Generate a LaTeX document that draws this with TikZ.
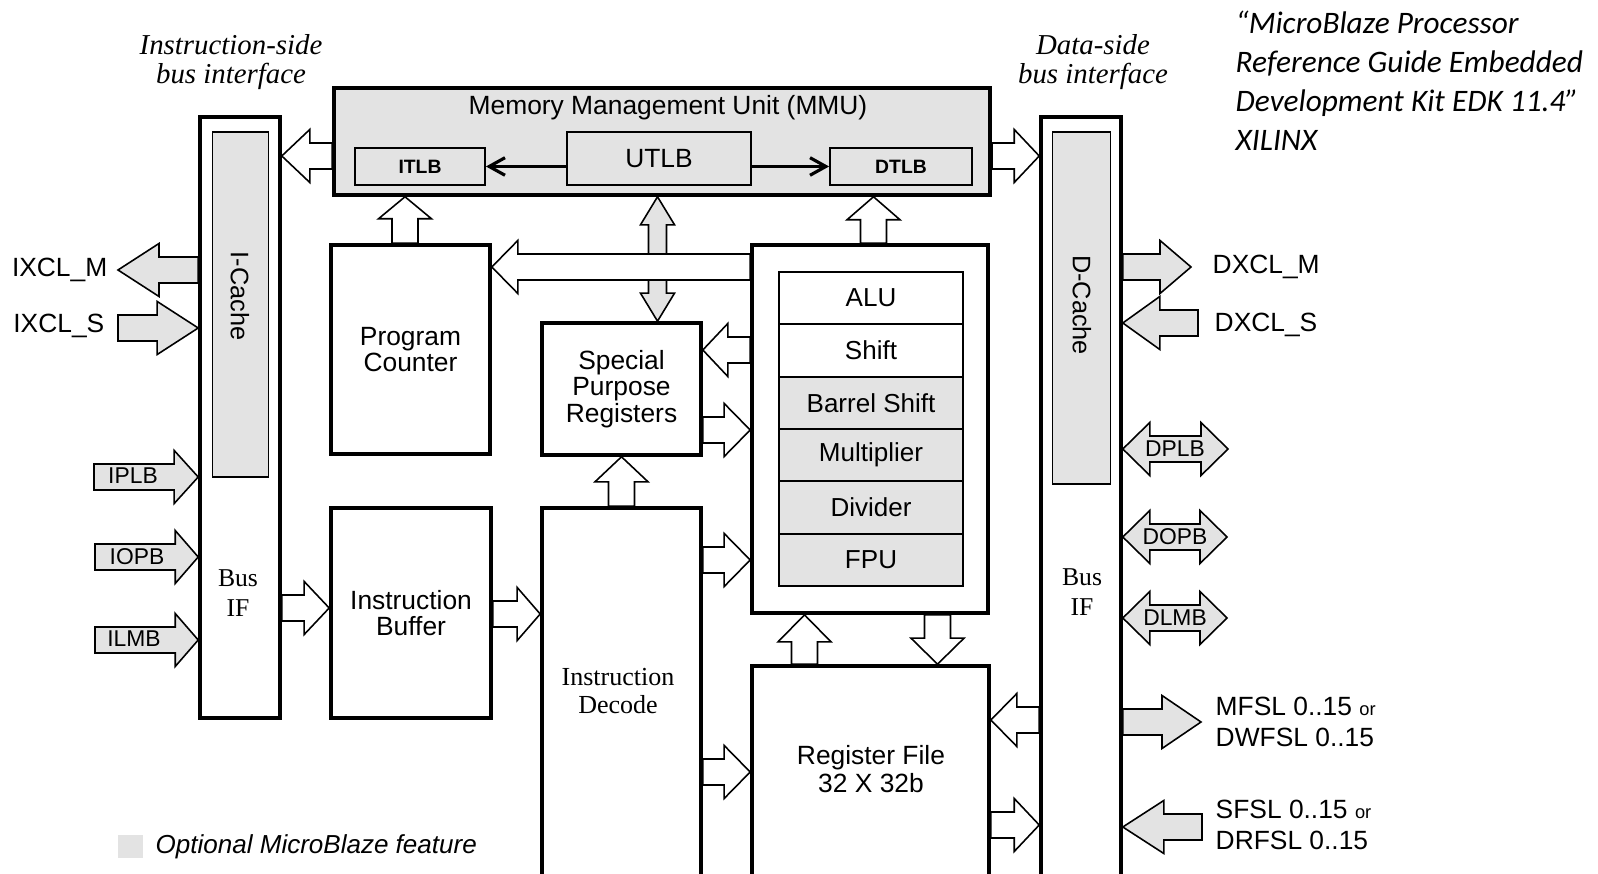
\documentclass[tikz,border=0pt]{standalone}
\usepackage{fontspec}
\setmainfont{Liberation Sans}
\newfontfamily\serifface{Liberation Serif}
\newfontfamily\citeface{Carlito}
\usetikzlibrary{calc,arrows.meta}

\definecolor{optgray}{RGB}{227,227,227}
\newcommand{\shaftw}{0.13cm}
\newcommand{\headw}{0.265cm}

% hollow block arrow: [fill]{tail}{tip}{head length}
\newcommand{\busarrow}[4][white]{%
  \coordinate (ba1) at (#2);
  \coordinate (ba2) at (#3);
  \coordinate (ba3) at ($(ba2)!#4!(ba1)$);
  \draw[blockarrow, fill=#1] ($(ba1)!\shaftw!90:(ba2)$) -- ($(ba3)!\shaftw!-90:(ba1)$)
    -- ($(ba3)!\headw!-90:(ba1)$) -- (ba2) -- ($(ba3)!\headw!90:(ba1)$)
    -- ($(ba3)!\shaftw!90:(ba1)$) -- ($(ba1)!\shaftw!-90:(ba2)$) -- cycle;
}
% two-headed block arrow
\newcommand{\dbusarrow}[4][white]{%
  \coordinate (ba1) at (#2);
  \coordinate (ba2) at (#3);
  \coordinate (ba3) at ($(ba2)!#4!(ba1)$);
  \coordinate (ba4) at ($(ba1)!#4!(ba2)$);
  \draw[blockarrow, fill=#1] (ba1) -- ($(ba4)!\headw!-90:(ba2)$) -- ($(ba4)!\shaftw!-90:(ba2)$)
    -- ($(ba3)!\shaftw!90:(ba1)$) -- ($(ba3)!\headw!90:(ba1)$) -- (ba2)
    -- ($(ba3)!\headw!-90:(ba1)$) -- ($(ba3)!\shaftw!-90:(ba1)$)
    -- ($(ba4)!\shaftw!90:(ba2)$) -- ($(ba4)!\headw!90:(ba2)$) -- cycle;
}

\begin{document}
\begin{tikzpicture}[x=0.01cm, y=-0.01cm,
  >={Straight Barb[length=4.5pt,width=5pt]},
  blk/.style={draw, line width=1pt, inner sep=0pt, align=center, font=\fontsize{7.5}{7.6}\selectfont},
  sub/.style={draw, line width=0.5pt, inner sep=0pt, fill=optgray},
  row/.style={draw, line width=0.5pt, inner sep=0pt, minimum width=1.845cm, minimum height=0.5233cm, font=\fontsize{7.4}{8}\selectfont},
  blockarrow/.style={line width=0.45pt, line join=miter},
  lbl/.style={inner sep=0pt, align=center, font=\fontsize{7.3}{8}\selectfont},
  bus/.style={inner sep=0pt, font=\fontsize{6.5}{7}\selectfont},
  pin/.style={inner sep=0pt, align=left, font=\fontsize{7.5}{8.8}\selectfont},
  side/.style={inner sep=0pt, align=center, font=\serifface\itshape\fontsize{8.2}{8.3}\selectfont},
  ]
\fill[white] (0,0) rectangle (1598,874);
\useasboundingbox (0,0) rectangle (1598,874);

% headings
\node[side] (iside) at (231,62) {Instruction-side\\bus interface};
\node[side] (dside) at (1093,62) {Data-side\\bus interface};
\node[anchor=north west, align=left, inner sep=0pt, font=\citeface\itshape\fontsize{8.9}{11.1}\selectfont] (cite) at (1235,10)
  {“MicroBlaze Processor\\Reference Guide Embedded\\Development Kit EDK 11.4”\\XILINX};

% instruction side
\node[blk, minimum width=0.8cm, minimum height=6.01cm] (isbus) at (240,417.5) {};
\node[sub, minimum width=0.56cm, minimum height=3.45cm] (icache) at (240.5,304.5) {};
\node[lbl, rotate=-90, font=\fontsize{7.2}{8}\selectfont] (icachetxt) at (240,296) {I-Cache};
\node[lbl, font=\serifface\fontsize{7.3}{8.5}\selectfont] (isbusif) at (238,593) {Bus\\IF};

% MMU
\node[blk, fill=optgray, minimum width=6.56cm, minimum height=1.07cm] (mmu) at (662,141.5) {};
\node[lbl, font=\fontsize{7.5}{8}\selectfont] (mmutxt) at (668,108) {Memory Management Unit (MMU)};
\node[sub, minimum width=1.30cm, minimum height=0.37cm, font=\bfseries\fontsize{5.5}{6}\selectfont] (itlb) at (420,166.5) {ITLB};
\node[sub, minimum width=1.835cm, minimum height=0.53cm, font=\fontsize{7.5}{8}\selectfont] (utlb) at (659,158.5) {UTLB};
\node[sub, minimum width=1.42cm, minimum height=0.37cm, font=\bfseries\fontsize{5.5}{6}\selectfont] (dtlb) at (901,166.5) {DTLB};
\draw[->, line width=0.9pt] (utlb.west |- itlb.east) -- (itlb.east);
\draw[->, line width=0.9pt] (utlb.east |- dtlb.west) -- (dtlb.west);

% core
\node[blk, minimum width=1.59cm, minimum height=2.09cm] (pc) at (410.5,349.5) {Program\\Counter};
\node[blk, minimum width=1.60cm, minimum height=2.10cm] (ib) at (411,613) {Instruction\\Buffer};
\node[blk, minimum width=1.59cm, minimum height=1.32cm] (spr) at (621.5,389) {Special\\Purpose\\Registers};
\node[blk, minimum width=1.59cm, minimum height=3.82cm] (id) at (621.5,699) {};
\node[lbl, font=\serifface\fontsize{7.4}{8}\selectfont] (idtxt) at (618,691) {Instruction\\Decode};
\node[blk, minimum width=2.36cm, minimum height=3.68cm] (alubox) at (870,429) {};
\foreach \nm/\rowtxt/\fc [count=\i] in {alu/ALU/white, shift/Shift/white, bshift/Barrel Shift/optgray,
    mult/Multiplier/optgray, div/Divider/optgray, fpu/FPU/optgray}
  \node[row, fill=\fc] (\nm) at (871,{272+52.33*\i-26.17}) {\rowtxt};
\node[blk, minimum width=2.37cm, minimum height=2.24cm] (rf) at (870.5,778) {};
\node[lbl, font=\fontsize{7.5}{8}\selectfont] (rftxt) at (871,769) {Register File\\32 X 32b};

% data side
\node[blk, minimum width=0.8cm, minimum height=7.73cm] (dsbus) at (1081,503.5) {};
\node[sub, minimum width=0.58cm, minimum height=3.52cm] (dcache) at (1081.5,308) {};
\node[lbl, rotate=-90, font=\fontsize{7.2}{8}\selectfont] (dcachetxt) at (1082,305) {D-Cache};
\node[lbl, font=\serifface\fontsize{7.3}{8.5}\selectfont] (dsbusif) at (1082,592) {Bus\\IF};

% internal buses
\busarrow{mmu.west |- 0,156}{isbus.east |- 0,156}{0.28cm}
\busarrow{mmu.east |- 0,156}{dsbus.west |- 0,156}{0.25cm}
\busarrow{405,0 |- pc.north}{405,0 |- mmu.south}{0.22cm}
\busarrow{873.5,0 |- alubox.north}{873.5,0 |- mmu.south}{0.23cm}
\begin{scope}
  \def\shaftw{0.09cm}\def\headw{0.17cm}
  \dbusarrow[optgray]{657.5,0 |- mmu.south}{657.5,0 |- spr.north}{0.28cm}
\end{scope}
\busarrow{alubox.west |- 0,267}{pc.east |- 0,267}{0.26cm}
\busarrow{alubox.west |- 0,350}{spr.east |- 0,350}{0.25cm}
\busarrow{spr.east |- 0,430}{alubox.west |- 0,430}{0.26cm}
\busarrow{id.north}{spr.south}{0.25cm}
\busarrow{id.east |- 0,560}{alubox.west |- 0,560}{0.26cm}
\busarrow{isbus.east |- 0,608}{ib.west |- 0,608}{0.25cm}
\busarrow{ib.east |- 0,614}{id.west |- 0,614}{0.23cm}
\busarrow{id.east |- 0,772}{rf.west |- 0,772}{0.26cm}
\busarrow{804.5,0 |- rf.north}{804.5,0 |- alubox.south}{0.27cm}
\busarrow{937.5,0 |- alubox.south}{937.5,0 |- rf.north}{0.26cm}
\busarrow{dsbus.west |- 0,720}{rf.east |- 0,720}{0.26cm}
\busarrow{rf.east |- 0,825}{dsbus.west |- 0,825}{0.25cm}

% instruction side ports
\node[pin, anchor=east] (ixclm) at (108,270) {IXCL\_M};
\busarrow[optgray]{isbus.west |- ixclm}{$(ixclm.east)+(10,0)$}{0.41cm}
\node[pin, anchor=east] (ixcls) at (105,326) {IXCL\_S};
\coordinate (ixclst) at ($(ixcls.east)+(13,2)$);
\busarrow[optgray]{ixclst}{isbus.west |- ixclst}{0.41cm}
\coordinate (iplbt) at (94,477);
\busarrow[optgray]{iplbt}{isbus.west |- iplbt}{0.24cm}
\node[bus] (iplb) at (133,476) {IPLB};
\coordinate (iopbt) at (95,557);
\busarrow[optgray]{iopbt}{isbus.west |- iopbt}{0.23cm}
\node[bus] (iopb) at (137,557) {IOPB};
\coordinate (ilmbt) at (95,640);
\busarrow[optgray]{ilmbt}{isbus.west |- ilmbt}{0.23cm}
\node[bus] (ilmb) at (134,639) {ILMB};

% data side ports
\node[pin, anchor=west] (dxclm) at (1212,267) {DXCL\_M};
\busarrow[optgray]{dsbus.east |- dxclm}{$(dxclm.west)+(-21,0)$}{0.31cm}
\node[pin, anchor=west] (dxcls) at (1214,325) {DXCL\_S};
\coordinate (dxclst) at ($(dxcls.west)+(-16,-2)$);
\busarrow[optgray]{dxclst}{dsbus.east |- dxclst}{0.37cm}
\coordinate (dplbe) at (1228,449);
\dbusarrow[optgray]{dsbus.east |- dplbe}{dplbe}{0.27cm}
\node[bus] (dplb) at (1175,449) {DPLB};
\coordinate (dopbe) at (1227,537);
\dbusarrow[optgray]{dsbus.east |- dopbe}{dopbe}{0.27cm}
\node[bus] (dopb) at (1175,537) {DOPB};
\coordinate (dlmbe) at (1227,618);
\dbusarrow[optgray]{dsbus.east |- dlmbe}{dlmbe}{0.27cm}
\node[bus] (dlmb) at (1175,618) {DLMB};
\node[pin, anchor=west] (mfsl) at (1215,722) {MFSL 0..15 {\fontsize{5.2}{8.8}\selectfont or}\\DWFSL 0..15};
\busarrow[optgray]{dsbus.east |- mfsl}{$(mfsl.west)+(-14,0)$}{0.39cm}
\node[pin, anchor=west] (sfsl) at (1215,825) {SFSL 0..15 {\fontsize{5.2}{8.8}\selectfont or}\\DRFSL 0..15};
\coordinate (sfslt) at ($(sfsl.west)+(-13,2)$);
\busarrow[optgray]{sfslt}{dsbus.east |- sfslt}{0.41cm}

% legend
\node[fill=optgray, inner sep=0pt, minimum width=0.25cm, minimum height=0.23cm] (legendbox) at (130.5,846.5) {};
\node[anchor=west, inner sep=0pt, font=\itshape\fontsize{7.4}{8}\selectfont] (legend) at (155,847) {Optional MicroBlaze feature};
\end{tikzpicture}
\end{document}
